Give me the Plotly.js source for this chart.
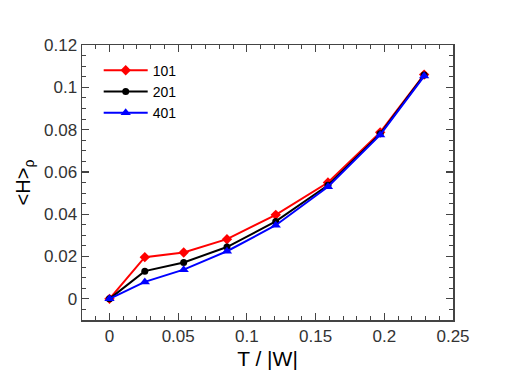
<!DOCTYPE html>
<html>
<head>
<meta charset="utf-8">
<script src="https://cdn.plot.ly/plotly-3.0.1.min.js"></script>
<style>
  html, body { margin: 0; padding: 0; background: #fff; }
  #chart { width: 512px; height: 382px; }
</style>
</head>
<body>
<div id="chart"></div>
<script>
// === Datos ===
const tW = [0, 0.0257, 0.054, 0.0855, 0.121, 0.159, 0.197, 0.229];
const h101 = [0, 0.0197, 0.0219, 0.0282, 0.0397, 0.0550, 0.0787, 0.1060];
const h201 = [0, 0.0131, 0.0172, 0.0245, 0.0366, 0.0537, 0.0780, 0.1058];
const h401 = [0, 0.0080, 0.0138, 0.0225, 0.0348, 0.0530, 0.0775, 0.1053];

const seriesNames = ["101", "201", "401"];
const seriesData = [h101, h201, h401];
const colors = ["#ff0000", "#000000", "#0000ff"];
const symbols = ["diamond", "circle", "triangle-up"];
const sizes = [8, 7, 9];

const fontFam = "'Liberation Sans', Arial, sans-serif";

const traces = seriesData.map((y, i) => ({
  x: tW,
  y,
  mode: "lines+markers",
  name: seriesNames[i],
  line: { color: colors[i], width: 2 },
  marker: { color: colors[i], symbol: symbols[i], size: sizes[i] }
}));

const axisStyle = {
  showline: true,
  linecolor: "#444",
  linewidth: 1.5,
  mirror: "ticks",
  ticks: "inside",
  ticklen: 7,
  tickwidth: 1.2,
  tickcolor: "#444",
  showgrid: false,
  zeroline: false,
  tickfont: { family: fontFam, size: 17, color: "#333" }
};

const layout = {
  width: 512,
  height: 382,
  margin: { l: 82, r: 59, t: 45, b: 62 },
  paper_bgcolor: "#fff",
  plot_bgcolor: "#fff",
  showlegend: true,
  legend: {
    x: 0.045, y: 0.965, xanchor: "left", yanchor: "top",
    bgcolor: "rgba(0,0,0,0)",
    itemwidth: 44,
    font: { family: fontFam, size: 14, color: "#000" },
    tracegroupgap: 0
  },
  xaxis: Object.assign({}, axisStyle, {
    range: [-0.02, 0.25],
    tickvals: [0, 0.05, 0.1, 0.15, 0.2, 0.25],
    ticktext: ["0", "0.05", "0.1", "0.15", "0.2", "0.25"],
    minor: { dtick: 0.01, ticks: "inside", ticklen: 4, tickcolor: "#444", tickwidth: 1 },
    title: { text: "T / |W|", font: { family: fontFam, size: 21, color: "#000" }, standoff: 6 }
  }),
  yaxis: Object.assign({}, axisStyle, {
    range: [-0.01, 0.12],
    tickvals: [0, 0.02, 0.04, 0.06, 0.08, 0.1, 0.12],
    ticktext: ["0", "0.02", "0.04", "0.06", "0.08", "0.1", "0.12"],
    minor: { dtick: 0.005, ticks: "inside", ticklen: 4, tickcolor: "#444", tickwidth: 1 },
    title: { text: "<H><sub>ρ</sub>", font: { family: fontFam, size: 20, color: "#000" }, standoff: 8 }
  })
};

Plotly.newPlot("chart", traces, layout, { displayModeBar: false, staticPlot: true });
</script>
</body>
</html>
